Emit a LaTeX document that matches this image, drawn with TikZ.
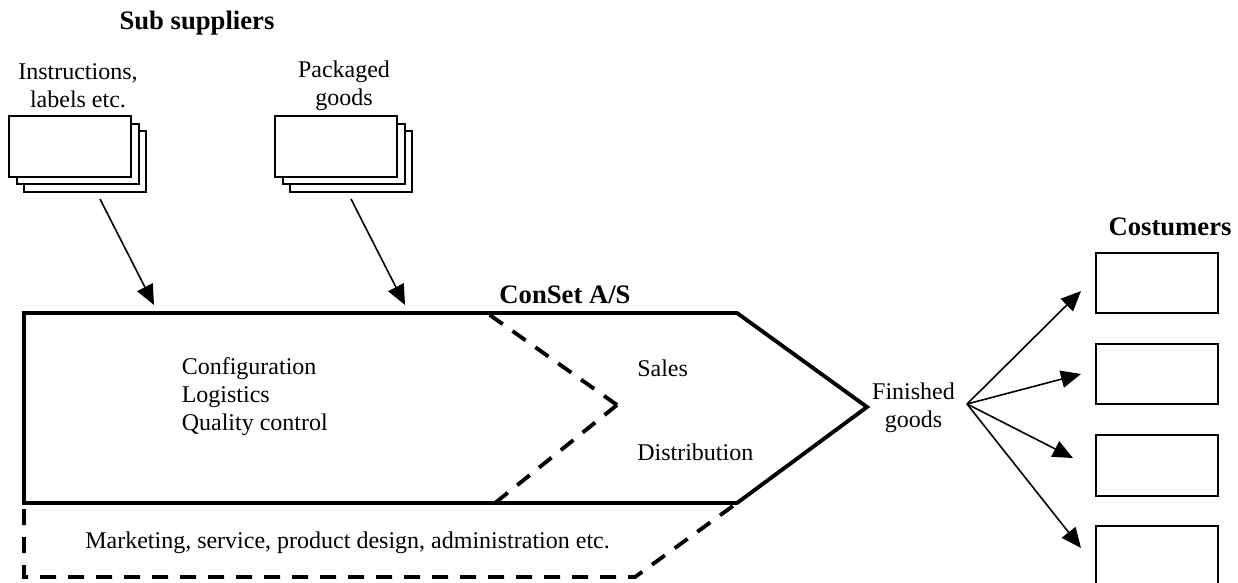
\documentclass[tikz,border=0pt]{standalone}
\usepackage{fontspec}
\setmainfont{Liberation Serif}
\usetikzlibrary{arrows.meta}
\tikzset{
    paperbox/.style={draw,line width=1.5pt,fill=white,minimum width=91.5pt,minimum height=45.5pt,inner sep=0pt},
    costumerbox/.style={draw,line width=1.5pt,minimum width=91.5pt,minimum height=45.5pt,inner sep=0pt},
    thickline/.style={line width=2.9pt},
    thickdash/.style={line width=2.9pt,dash pattern=on 12pt off 9pt},
    flowarrow/.style={line width=1.2pt,-{Triangle[length=15pt,width=13pt]}},
    plaintext/.style={inner sep=0.75pt,font=\fontsize{18}{21}\selectfont,align=left},
    boldtext/.style={inner sep=0.75pt,font=\fontsize{20}{24}\selectfont\bfseries},
}

\begin{document}
\begin{tikzpicture}[x=0.75pt,y=0.75pt,yscale=-1,xscale=1]
    \useasboundingbox (0,0) rectangle (1238,582);

    %Shape: Stack left
    \node [paperbox] (instrC) at (85,161.5) {};
    \node [paperbox] (instrB) at (77.5,154) {};
    \node [paperbox] (instrA) at (70,146.5) {};
    %Shape: Stack right
    \node [paperbox] (packC) at (351,161.5) {};
    \node [paperbox] (packB) at (343.5,154) {};
    \node [paperbox] (packA) at (336,146.5) {};

    %Shape: Customers
    \node [costumerbox] (custA) at (1157,283) {};
    \node [costumerbox] (custB) at (1157,374) {};
    \node [costumerbox] (custC) at (1157,465.5) {};
    \node [costumerbox] (custD) at (1157,556.5) {};

    %Shape: Arrow shape
    \coordinate (apex) at (617,405);
    \draw [thickdash] (24,509) -- (24,577) -- (635,577) -- (737,503) ;
    \draw [thickdash] (apex) -- (487,313) ;
    \draw [thickdash] (apex) -- (495,503) ;
    \draw [thickline,line join=miter] (24,313) -- (737,313) -- (867,407) -- (737,503) -- (24,503) -- cycle ;

    % Text Node
    \node [boldtext] (subtitle) at (197,23) {Sub suppliers};
    % Text Node
    \node [plaintext,align=center] (instrtext) at (78,86) {Instructions,\\labels etc.};
    % Text Node
    \node [plaintext,align=center] (packtext) at (344,86) {Packaged\\goods};
    % Text Node
    \node [boldtext] (consettext) at (565,295) {ConSet A/S};
    % Text Node
    \node [boldtext] (costtext) at (1170,227) {Costumers};
    % Text Node
    \node [plaintext,anchor=west] (configtext) at (180.5,397) {Configuration\\Logistics\\Quality control};
    % Text Node
    \node [plaintext,anchor=west] (salestext) at (636,368) {Sales};
    % Text Node
    \node [plaintext,anchor=west] (distrtext) at (636,452) {Distribution};
    % Text Node
    \node [plaintext,align=center] (goodstext) at (913.5,408) {Finished\\goods};
    % Text Node
    \node [plaintext,anchor=west] (markettext) at (84,543) {Marketing, service, product design, administration etc.};

    %Connectors
    \coordinate (instrout) at (100,199);
    \coordinate (instrin) at (154,305);
    \coordinate (packout) at (351,199);
    \coordinate (packin) at (405,305);
    \coordinate (fan) at (967,404);
    \coordinate (tipA) at (1081,291);
    \coordinate (tipB) at (1081,374);
    \coordinate (tipC) at (1073,458);
    \coordinate (tipD) at (1081,548);
    \draw [flowarrow] (instrout) -- (instrin) ;
    \draw [flowarrow] (packout) -- (packin) ;
    \draw [flowarrow] (fan) -- (tipA) ;
    \draw [flowarrow] (fan) -- (tipB) ;
    \draw [flowarrow] (fan) -- (tipC) ;
    \draw [flowarrow] (fan) -- (tipD) ;
\end{tikzpicture}
\end{document}
